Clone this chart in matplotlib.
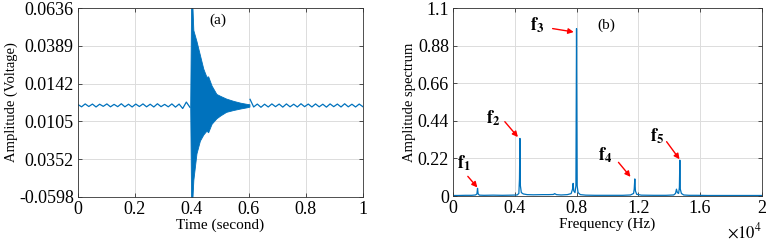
import numpy as np
import matplotlib
matplotlib.use("Agg")
import matplotlib.pyplot as plt

plt.rcParams['font.family'] = ['Liberation Serif', 'DejaVu Serif']
plt.rcParams['mathtext.fontset'] = 'stix'

BLUE = '#0072BD'

# ---------------- data: panel (a) ----------------
pre_vals = [0.0006, -0.0009, 0.0010, -0.0007, 0.0009, -0.0010, 0.0008, -0.0006, 0.0010, -0.0009,
            0.0007, -0.0008, 0.0011, -0.0009, 0.0008, -0.0010, 0.0009, -0.0007, 0.0010, -0.0009,
            0.0008, -0.0010, 0.0011, -0.0008, 0.0007, -0.0009, 0.0010, -0.0011, 0.0009, -0.0020,
            0.0022, -0.0012]
post_vals = [0.0040, -0.0010, 0.0009, -0.0012, 0.0008, -0.0010, 0.0010, -0.0008, 0.0009, -0.0011,
             0.0010, -0.0009, 0.0008, -0.0010, 0.0011, -0.0008, 0.0009, -0.0010, 0.0010, -0.0009,
             0.0008, -0.0011, 0.0010, -0.0008, 0.0009, -0.0010, 0.0011, -0.0009, 0.0008, -0.0010,
             0.0009, -0.0008]
burst_t = [0.394, 0.397, 0.402, 0.405, 0.416, 0.428, 0.440, 0.451, 0.457, 0.469, 0.486,
           0.500, 0.520, 0.545, 0.570, 0.593, 0.602]
burst_upper = [0.0010, 0.0636, 0.0636, 0.0492, 0.0420, 0.0330, 0.0240, 0.0187, 0.0190, 0.0130,
               0.0075, 0.0062, 0.0045, 0.0030, 0.0018, 0.0010, 0.0008]
burst_lower = [-0.0010, -0.0598, -0.0598, -0.0487, -0.0313, -0.0230, -0.0190, -0.0165, -0.0175,
               -0.0120, -0.0084, -0.0065, -0.0042, -0.0030, -0.0020, -0.0012, -0.0008]
a_yticks = [-0.0598, -0.03512, -0.01044, 0.01424, 0.03892, 0.0636]
a_ylabels = ['-0.0598', '0.0352', '0.0105', '0.0142', '0.0389', '0.0636']
a_xticks = [0, 0.2, 0.4, 0.6, 0.8, 1.0]
a_xlabels = ['0', '0.2', '0.4', '0.6', '0.8', '1']

# ---------------- data: panel (b) ----------------
spec_freq = [0, 300, 800, 1200, 1450, 1540, 1580, 1620, 1700, 2000, 2600, 3200, 3800, 4150,
             4260, 4300, 4330, 4360, 4420, 4550, 4800, 5200, 5800, 6200, 6500, 6580, 6620, 6700,
             7000, 7400, 7650, 7740, 7780, 7820, 7900, 7960, 8000, 8040, 8100, 8250, 8600,
             9200, 10000, 11000, 11500, 11700, 11740, 11780, 11820, 11900, 12200, 13000, 13800,
             14300, 14420, 14480, 14540, 14620, 14670, 14700, 14730, 14800, 14950, 15300, 15800,
             16500, 17500, 18500, 19500, 20000]
spec_amp = [0.003, 0.003, 0.004, 0.004, 0.006, 0.012, 0.045, 0.012, 0.005, 0.004, 0.005, 0.004,
            0.005, 0.006, 0.015, 0.10, 0.337, 0.06, 0.020, 0.012, 0.008, 0.007, 0.008, 0.008,
            0.009, 0.014, 0.012, 0.008, 0.006, 0.008, 0.014, 0.040, 0.074, 0.030, 0.020, 0.060,
            0.980, 0.060, 0.020, 0.008, 0.005, 0.004, 0.004, 0.004, 0.006, 0.015, 0.040, 0.100,
            0.030, 0.010, 0.005, 0.004, 0.004, 0.006, 0.015, 0.040, 0.020, 0.015, 0.050, 0.210,
            0.040, 0.015, 0.006, 0.004, 0.004, 0.003, 0.003, 0.003, 0.003, 0.003]
b_yticks = [0, 0.22, 0.44, 0.66, 0.88, 1.1]
b_ylabels = ['0', '0.22', '0.44', '0.66', '0.88', '1.1']
b_xticks = [0, 4000, 8000, 12000, 16000, 20000]
b_xlabels = ['0', '0.4', '0.8', '1.2', '1.6', '2']

peak_labels = ['1', '2', '3', '4', '5']
label_pos = [(720, 0.19), (2600, 0.456), (5430, 1.0), (9840, 0.24), (13250, 0.35)]
arrow_from = [(950, 0.115), (3350, 0.435), (6450, 0.98), (10720, 0.197), (13840, 0.318)]
arrow_to = [(1570, 0.05), (4200, 0.345), (7820, 0.96), (11500, 0.112), (14680, 0.215)]

TFS = 13
LFS = 9.5

fig = plt.figure(figsize=(7.72, 2.45), dpi=100)

def style(ax):
    ax.grid(True, color='#dcdcdc', linewidth=0.7)
    ax.set_axisbelow(True)
    ax.tick_params(direction='in', top=True, right=True, length=3, width=0.6,
                   color='#333333', labelsize=TFS, pad=3)
    for s in ax.spines.values():
        s.set_color('#333333')
        s.set_linewidth(0.6)

# panel (a)
ax1 = fig.add_axes([0.101, 0.196, 0.369, 0.771])
t_pre = np.linspace(0.0, 0.393, len(pre_vals))
t_post = np.linspace(0.604, 1.0, len(post_vals))
ax1.plot(t_pre, pre_vals, color=BLUE, lw=0.9)
ax1.plot(t_post, post_vals, color=BLUE, lw=0.9)
ax1.fill_between(burst_t, burst_lower, burst_upper, color=BLUE, lw=0.6, edgecolor=BLUE)
ax1.set_xlim(0, 1)
ax1.set_ylim(-0.0598, 0.0636)
ax1.set_xticks(a_xticks)
ax1.set_xticklabels(a_xlabels)
ax1.set_yticks(a_yticks)
ax1.set_yticklabels(a_ylabels)
ax1.set_xlabel('Time (second)', fontsize=LFS + 1.5, labelpad=0)
ax1.set_ylabel('Amplitude (Voltage)', fontsize=LFS + 1, labelpad=1)
ax1.text(0.49, 0.0555, '(a)', fontsize=11, ha='center', va='center')
style(ax1)

# panel (b)
ax2 = fig.add_axes([0.587, 0.2, 0.3995, 0.767])
ax2.plot(spec_freq, spec_amp, color=BLUE, lw=0.9)
ax2.set_xlim(0, 20000)
ax2.set_ylim(0, 1.1)
ax2.set_xticks(b_xticks)
ax2.set_xticklabels(b_xlabels)
ax2.set_yticks(b_yticks)
ax2.set_yticklabels(b_ylabels)
ax2.set_xlabel('Frequency (Hz)', fontsize=LFS + 1.5, labelpad=0)
ax2.set_ylabel('Amplitude spectrum', fontsize=LFS + 1, labelpad=1)
ax2.text(9960, 1.0, '(b)', fontsize=11, ha='center', va='center')
ax2.text(1.0, -0.245, r'$\times10^4$', transform=ax2.transAxes, fontsize=12,
         ha='right', va='bottom')
for lab, (lx, ly), af, at in zip(peak_labels, label_pos, arrow_from, arrow_to):
    ax2.text(lx, ly, r'$\mathbf{f}_{\mathbf{%s}}$' % lab, fontsize=13,
             ha='center', va='center')
    ax2.annotate('', xy=at, xytext=af,
                 arrowprops=dict(arrowstyle='-|>', color='red', lw=1.0,
                                 mutation_scale=8, shrinkA=0, shrinkB=0))
style(ax2)

fig.savefig('out.png', dpi=100)
